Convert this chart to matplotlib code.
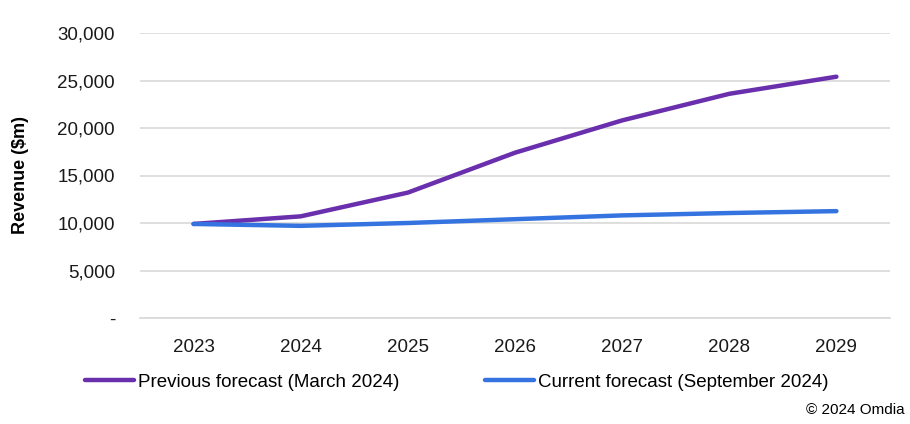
import matplotlib
matplotlib.use('Agg')
import matplotlib.pyplot as plt
from matplotlib.lines import Line2D
from matplotlib.ticker import FuncFormatter

plt.rcParams['font.family'] = ['Liberation Sans Narrow', 'Liberation Sans', 'DejaVu Sans']

years = ['2023', '2024', '2025', '2026', '2027', '2028', '2029']
previous = [9900, 10700, 13200, 17400, 20800, 23600, 25400]
current = [9900, 9700, 10000, 10400, 10800, 11050, 11250]
names = ['Previous forecast (March 2024)', 'Current forecast (September 2024)']
colors = ['#6a2fad', '#3574e0']

fig = plt.figure(figsize=(9.1, 4.24), dpi=100)
ax = fig.add_axes([140/910, 1-318/424, 750/910, 285/424])

x = range(len(years))
ax.plot(x, previous, color=colors[0], lw=3.2, solid_capstyle='round', zorder=3)
ax.plot(x, current, color=colors[1], lw=3.2, solid_capstyle='round', zorder=3)

ax.set_xlim(-0.5, len(years)-0.5)
ax.set_ylim(0, 30000)
ax.set_yticks(range(0, 30001, 5000))
ax.yaxis.set_major_formatter(FuncFormatter(lambda v, p: '-' if v == 0 else f'{int(v):,}'))
ax.set_xticks(list(x))
ax.set_xticklabels(years)
ax.grid(axis='y', color='#d9d9d9', lw=1.2)
ax.set_axisbelow(True)
for s in ['top', 'right', 'left']:
    ax.spines[s].set_visible(False)
ax.spines['bottom'].set_color('#d9d9d9')
ax.spines['bottom'].set_linewidth(1.2)
ax.tick_params(axis='both', length=0, labelsize=13.5, colors='#1a1a1a')
ax.tick_params(axis='y', pad=18)
ax.tick_params(axis='x', pad=15)
ax.set_ylabel('Revenue ($m)', fontsize=13, fontweight='bold')
ax.yaxis.set_label_coords(-0.148, 0.5)

handles = [Line2D([], [], color=c, lw=3.2, solid_capstyle='round') for c in colors]
fig.legend(handles, names, loc='center left', bbox_to_anchor=(85/910, 1-382/424),
           ncol=2, frameon=False, fontsize=13.5, handlelength=2.6, handletextpad=0.2,
           columnspacing=4.6, borderaxespad=0, borderpad=0)
fig.text(905/910, 1-410/424, '\u00a9 2024 Omdia', ha='right', va='center', fontsize=11)

fig.savefig('out.png', dpi=100)
